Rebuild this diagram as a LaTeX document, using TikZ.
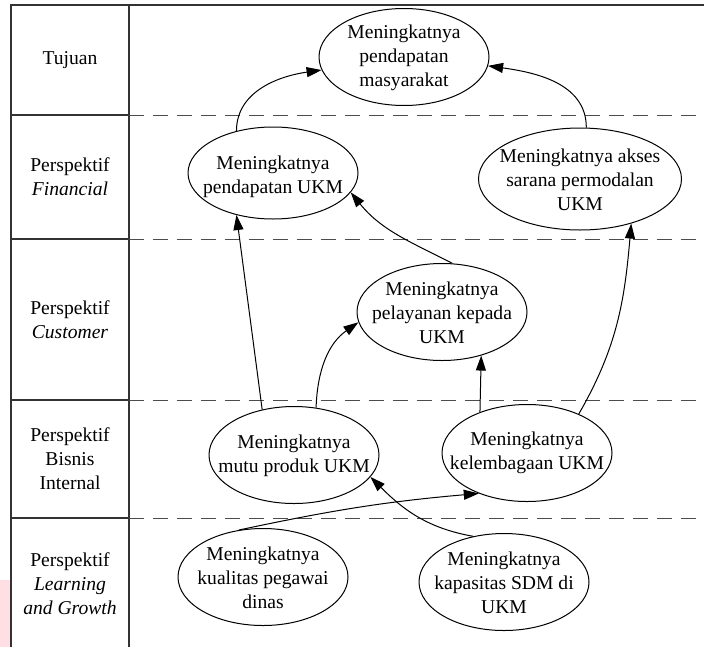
\documentclass[tikz,border=0pt]{standalone}
\usepackage{fontspec}
\setmainfont{Liberation Serif}
\usetikzlibrary{arrows.meta,shapes.geometric}
\definecolor{markpink}{RGB}{255,222,228}

\begin{document}
\begin{tikzpicture}[x=0.5pt, y=-0.5pt,
    txt/.style={font=\fontsize{9.8pt}{12pt}\selectfont, align=center, inner sep=0pt},
    goal/.style={draw, ellipse, line width=0.5pt, inner sep=0pt,
                 minimum width=85pt, minimum height=48.5pt},
    frame/.style={line width=0.8pt, black!80},
    sep/.style={line width=0.5pt, black!70, dash pattern=on 7.5pt off 4.5pt},
    link/.style={line width=0.5pt, -{Triangle[length=7.5pt,width=5pt]}}]
    \useasboundingbox (0,0) rectangle (704,647);
    \fill[markpink] (0,580) rectangle (10,647);
    % Perspective column and rows
    \draw[frame] (704,5) -- (11,5) -- (11,647);
    \draw[frame] (129,5) -- (129,647);
    \foreach \y in {115,239,400,518} {
        \draw[frame] (11,\y) -- (129,\y);
        \draw[sep] (129,\y) -- (704,\y);
    }
    \node[txt] (tujuan)   at (70,60)  {Tujuan};
    \node[txt] (financial) at (70,177) {Perspektif\\\textit{Financial}};
    \node[txt] (customer) at (70,320) {Perspektif\\\textit{Customer}};
    \node[txt] (bisnis)   at (70,459) {Perspektif\\Bisnis\\Internal};
    \node[txt] (learning) at (70,584) {Perspektif\\\textit{Learning}\\\textit{and Growth}};
    % Goals
    \node[goal] (masy) at (404,57) {};
    \node[txt] (masy-t) at (404,58) {Meningkatnya\\pendapatan\\masyarakat};
    \node[goal, minimum height=46pt] (ukm) at (273,173) {};
    \node[txt] (ukm-t) at (273,177) {Meningkatnya\\pendapatan UKM};
    \node[goal, minimum width=101.5pt, minimum height=51pt] (akses) at (580,179) {};
    \node[txt] (akses-t) at (580,180) {Meningkatnya akses\\sarana permodalan\\UKM};
    \node[goal] (layan) at (442,312) {};
    \node[txt] (layan-t) at (442,313) {Meningkatnya\\pelayanan kepada\\UKM};
    \node[goal] (mutu) at (294,455) {};
    \node[txt] (mutu-t) at (294,456) {Meningkatnya\\mutu produk UKM};
    \node[goal] (lembaga) at (527,453) {};
    \node[txt] (lembaga-t) at (527,453) {Meningkatnya\\kelembagaan UKM};
    \node[goal] (pegawai) at (263,577) {};
    \node[txt] (pegawai-t) at (263,578) {Meningkatnya\\kualitas pegawai\\dinas};
    \node[goal] (sdm) at (504,582) {};
    \node[txt] (sdm-t) at (504,583) {Meningkatnya\\kapasitas SDM di\\UKM};
    % Links
    \draw[link] (ukm.131) to[out=90, in=188] (masy.189);
    \draw[link] (akses.83) to[out=90, in=-8] (masy.354);
    \draw[link] (mutu.125) -- (ukm.229);
    \draw[link] (layan.78) to[out=153, in=-51] (ukm.346);
    \draw[link] (mutu.65) to[out=88, in=215] (layan.187);
    \draw[link] (lembaga.139) -- (layan.312);
    \draw[link] (lembaga.37) to[out=60, in=-95] (akses.319);
    \draw[link] (pegawai.117) to[out=12, in=185] (lembaga.220);
    \draw[link] (sdm.124) to[out=170, in=-45] (mutu.344);
\end{tikzpicture}
\end{document}
